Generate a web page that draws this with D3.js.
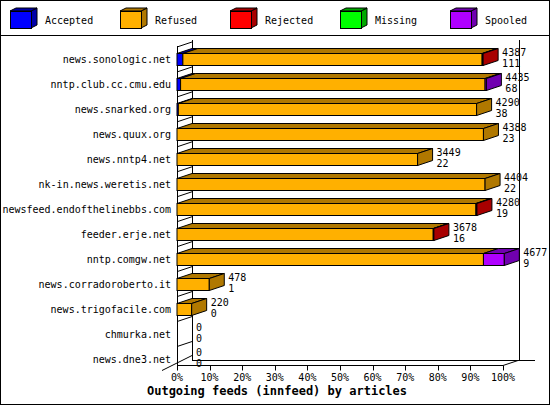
<!DOCTYPE html>
<html><head><meta charset="utf-8">
<script src="https://cdn.jsdelivr.net/npm/d3@7"></script>
<style>body{margin:0;background:#fff}</style></head>
<body><svg id="c" width="550" height="405"></svg>
<script>
const hosts=["news.sonologic.net","nntp.club.cc.cmu.edu","news.snarked.org","news.quux.org","news.nntp4.net","nk-in.news.weretis.net","newsfeed.endofthelinebbs.com","feeder.erje.net","nntp.comgw.net","news.corradoroberto.it","news.trigofacile.com","chmurka.net","news.dne3.net"];
const seriesNames=["Accepted","Refused","Rejected","Missing","Spooled"];
const accepted=[1.8,1.1,0.4,0,0,0,0,0,0,0,0,0,0];
const refused=[91.8,93.4,91.5,94,73.8,94.5,91.7,78.6,94,9.9,4.5,0,0];
const rejected=[0.3,0,0,0,0,0,0.3,0.2,0,0,0,0,0];
const missing=[0,0,0,0,0,0,0,0,0,0,0,0,0];
const spooled=[0,0.4,0,0,0,0,0,0,6.4,0,0,0,0];
const offered=[4387,4435,4290,4388,3449,4404,4280,3678,4677,478,220,0,0];
const second=[111,68,38,23,22,22,19,16,9,1,0,0,0];
const ticks=[0,10,20,30,40,50,60,70,80,90,100];
const front=["#0000ff","#ffb000","#ff0000","#00ff00","#b000ff"];
const dark=["#0000a8","#b07800","#a80000","#00a800","#7000b0"];
const series=[accepted,refused,rejected,missing,spooled];
const svg=d3.select("#c");
const F="DejaVu Sans Mono, monospace";
const x=d3.scaleLinear().domain([0,100]).range([177,503]);
const y=d3.scaleBand().domain(hosts).range([46.5,371]);
const DX=15,DY=-5,BH=12;
svg.append("rect").attr("x",0.5).attr("y",0.5).attr("width",549).attr("height",404).attr("fill","#fff").attr("stroke","#000");
svg.append("line").attr("x1",0).attr("x2",550).attr("y1",35.5).attr("y2",35.5).attr("stroke","#000");
const lg=svg.append("g");
seriesNames.forEach((n,i)=>{
  const bx=10+110*i;
  lg.append("path").attr("d",`M${bx+21},11L${bx+27},8L${bx+27},25L${bx+21},28Z`).attr("fill",dark[i]).attr("stroke","#000");
  lg.append("path").attr("d",`M${bx},11L${bx+6},8L${bx+27},8L${bx+21},11Z`).attr("fill",dark[i]).attr("stroke","#000");
  lg.append("rect").attr("x",bx+0.5).attr("y",11.5).attr("width",21).attr("height",17).attr("fill",front[i]).attr("stroke","#000");
  lg.append("text").attr("x",bx+35).attr("y",24).attr("font-family",F).attr("font-size",10).text(n);
});
const floorY=365.5;
const ax=svg.append("g").attr("stroke","#000").attr("fill","none");
ax.append("line").attr("x1",192.5).attr("x2",192.5).attr("y1",40).attr("y2",floorY+DY);
ax.append("line").attr("x1",519.5).attr("x2",519.5).attr("y1",40).attr("y2",floorY+DY);
ax.append("line").attr("x1",177.5).attr("x2",177.5).attr("y1",46).attr("y2",floorY);
ax.append("line").attr("x1",177).attr("x2",x(100)).attr("y1",floorY).attr("y2",floorY);
ax.append("line").attr("x1",192).attr("x2",535).attr("y1",floorY+DY).attr("y2",floorY+DY);
ax.append("line").attr("x1",x(100)).attr("x2",x(100)+DX).attr("y1",floorY).attr("y2",floorY+DY);
ax.append("line").attr("x1",162).attr("x2",192).attr("y1",floorY+5).attr("y2",floorY+DY-5);
hosts.forEach(h=>{const yy=y(h)+0.5;ax.append("line").attr("x1",177).attr("x2",192).attr("y1",yy).attr("y2",yy+DY);});
ticks.forEach(t=>{
  ax.append("line").attr("x1",Math.round(x(t))+0.5).attr("x2",Math.round(x(t))+0.5).attr("y1",floorY).attr("y2",floorY+5);
  svg.append("text").attr("x",x(t)).attr("y",381).attr("text-anchor","middle").attr("font-family",F).attr("font-size",10).text(t+"%");
});
hosts.forEach((h,r)=>{
  const cy=y(h)+y.bandwidth()/2, top=Math.round(cy-BH/2)+0.5;
  let cum=0,last=-1;
  const g=svg.append("g");
  series.forEach((s,i)=>{
    const v=s[r]; if(v<=0)return;
    const x0=x(cum),x1=x(cum+v);
    g.append("path").attr("d",`M${x0},${top}L${x0+DX},${top+DY}L${x1+DX},${top+DY}L${x1},${top}Z`).attr("fill",dark[i]).attr("stroke","#000");
    g.append("rect").attr("x",x0).attr("y",top).attr("width",x1-x0).attr("height",BH).attr("fill",front[i]).attr("stroke","#000");
    cum+=v; last=i;
  });
  if(last>=0){
    const xe=x(cum);
    g.append("path").attr("d",`M${xe},${top}L${xe+DX},${top+DY}L${xe+DX},${top+DY+BH}L${xe},${top+BH}Z`).attr("fill",dark[last]).attr("stroke","#000");
  }
  const lx=x(cum)+DX+4;
  svg.append("text").attr("x",lx).attr("y",cy-3).attr("font-family",F).attr("font-size",10).text(offered[r]);
  svg.append("text").attr("x",lx).attr("y",cy+8).attr("font-family",F).attr("font-size",10).text(second[r]);
  svg.append("text").attr("x",171).attr("y",cy+4).attr("text-anchor","end").attr("font-family",F).attr("font-size",10).text(h);
});
svg.append("text").attr("x",277).attr("y",395).attr("text-anchor","middle").attr("font-family",F).attr("font-size",12).attr("font-weight","bold").text("Outgoing feeds (innfeed) by articles");
</script></body></html>
